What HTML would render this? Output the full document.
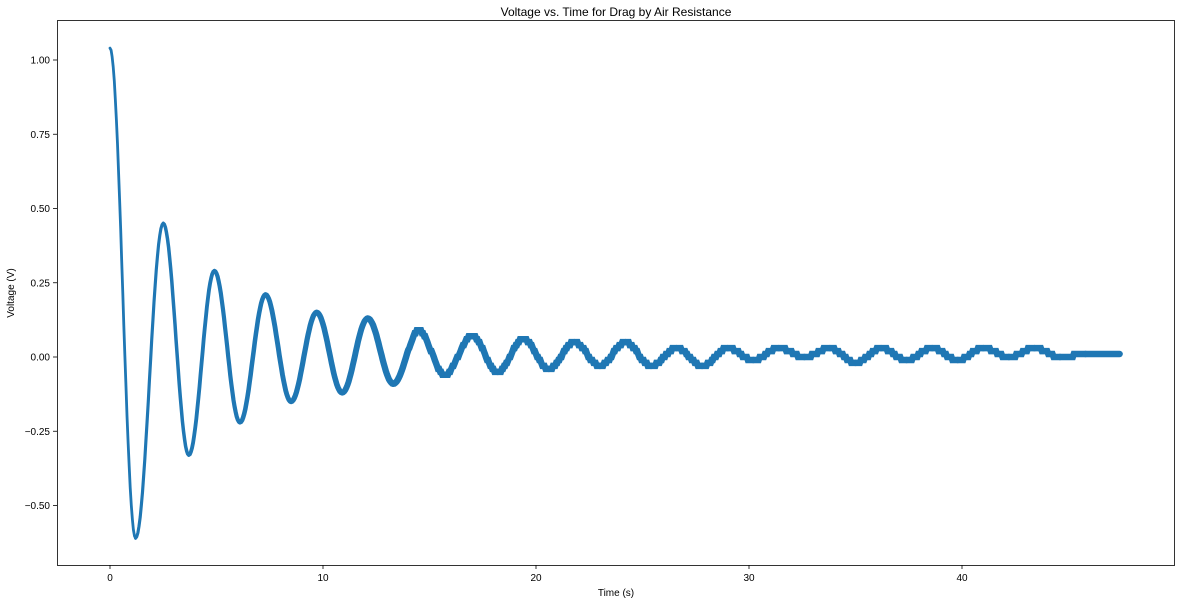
<!DOCTYPE html>
<html><head><meta charset="utf-8"><style>
body{margin:0;background:#fff;font-family:"Liberation Sans",sans-serif}
svg text{font-family:"Liberation Sans",sans-serif;font-size:10px;fill:#000}
</style></head><body>
<svg id="chart" width="1185" height="604" xmlns="http://www.w3.org/2000/svg">
<rect width="1185" height="604" fill="#fff"/>
<text x="616" y="16" text-anchor="middle" style="font-size:12px">Voltage vs. Time for Drag by Air Resistance</text>
<g id="plot"></g>
<rect x="57.5" y="20.5" width="1117" height="545" fill="none" stroke="#000" stroke-width="0.8"/>
<text x="616" y="596" text-anchor="middle">Time (s)</text>
<text transform="translate(14,293) rotate(-90)" text-anchor="middle">Voltage (V)</text>
</svg>
<script>
const extremaT=[0,1.2,2.5,3.7,4.9,6.1,7.3,8.5,9.7,10.9,12.1,13.3,14.5,15.7,17.0,18.2,19.4,20.6,21.8,23.0,24.2,25.4,26.6,27.8,29.0,30.2,31.4,32.6,33.8,35.0,36.2,37.4,38.6,39.8,41.0,42.2,43.4,44.6,45.8,47.4];
const extremaV=[1.04,-0.61,0.45,-0.33,0.29,-0.22,0.21,-0.15,0.15,-0.12,0.13,-0.09,0.09,-0.06,0.07,-0.05,0.06,-0.04,0.05,-0.03,0.05,-0.03,0.03,-0.03,0.03,-0.01,0.03,0.00,0.03,-0.02,0.03,-0.01,0.03,-0.01,0.03,0.00,0.03,0.00,0.01,0.01];
const xTicks=[0,10,20,30,40];
const yTicks=[-0.5,-0.25,0,0.25,0.5,0.75,1.0];
const yTickLabels=["\u22120.50","\u22120.25","0.00","0.25","0.50","0.75","1.00"];
const xs=t=>110+t*21.3;
const ys=v=>357-v*297;
const NS="http://www.w3.org/2000/svg";
const svg=document.getElementById('chart');
const g=document.getElementById('plot');
function mk(tag,attrs,parent){const e=document.createElementNS(NS,tag);for(const k in attrs)e.setAttribute(k,attrs[k]);(parent||svg).appendChild(e);return e;}
xTicks.forEach(t=>{
  const l=mk('line',{x1:xs(t),x2:xs(t),y1:565,y2:569,stroke:'#000','stroke-width':0.8});
  
  
  const tx=mk('text',{x:xs(t),y:581,'text-anchor':'middle'});tx.textContent=t;
  
  
});
yTicks.forEach((v,i)=>{
  const l=mk('line',{x1:53,x2:57,y1:ys(v),y2:ys(v),stroke:'#000','stroke-width':0.8});
  
  
  const tx=mk('text',{x:50,y:ys(v)+3.5,'text-anchor':'end'});tx.textContent=yTickLabels[i];
  
  
});
for(let i=0;i<extremaT.length-1;i++){
  const t0=extremaT[i],t1=extremaT[i+1],v0=extremaV[i],v1=extremaV[i+1];
  const n=24;let d='';
  for(let k=0;k<=n;k++){
    const f=k/n,t=t0+(t1-t0)*f;
    let v=v0+(v1-v0)*(1-Math.cos(Math.PI*f))/2;
    if(t>14) v=Math.round(v*100)/100;
    d+=(d?'L':'M')+xs(t).toFixed(1)+','+ys(v).toFixed(1);
  }
  const w=Math.min(2.8+i*0.35,6.5);
  const p=mk('path',{d:d,fill:'none',stroke:'#1f77b4','stroke-width':w,'stroke-linecap':'round'},g);
  
  
}
</script>
</body></html>
